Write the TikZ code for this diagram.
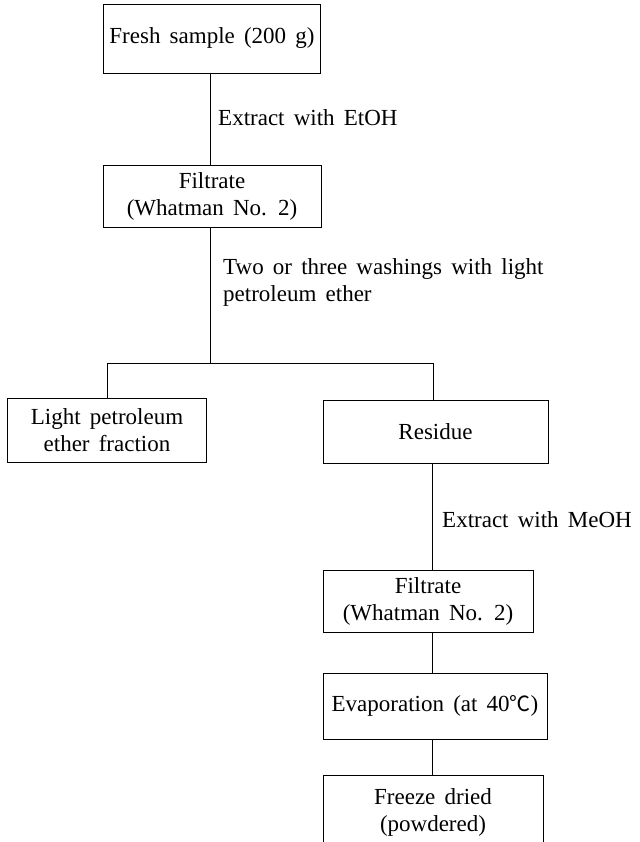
\documentclass[tikz,border=0pt]{standalone}
\usepackage{fontspec}
\setmainfont{Liberation Serif}[WordSpace=1.6]
\newfontfamily\cjk{Noto Sans CJK KR}
\begin{document}
\begin{tikzpicture}[x=1pt,y=-1pt,
  every node/.style={font=\fontsize{23}{27}\selectfont, inner sep=0pt},
  box/.style={draw, line width=0.9pt, rectangle, align=center},
  lbl/.style={align=left},
  conn/.style={line width=0.9pt}]
\useasboundingbox (0,0) rectangle (639,842);
% nodes
\node[box, minimum width=217, minimum height=69] (fresh) at (212,38.5) {Fresh sample (200 g)};
\node[box, minimum width=218, minimum height=62] (filt1) at (212,196) {Filtrate\\(Whatman No. 2)};
\node[box, minimum width=199, minimum height=64] (light) at (107,430) {Light petroleum\\ether fraction};
\node[box, minimum width=225, minimum height=63] (resid) at (435.5,431.5) {Residue};
\node[box, minimum width=210, minimum height=62] (filt2) at (428,601) {Filtrate\\(Whatman No. 2)};
\node[box, minimum width=224, minimum height=66] (evap) at (435,706) {Evaporation (at 40{\cjk\fontsize{21}{27}\selectfont ℃})};
\node[align=center] (freeze) at (433,812) {Freeze dried\\(powdered)};
% open-bottom box for Freeze dried
\coordinate (fzl) at (323,842);
\coordinate (fzr) at (543,842);
\draw[conn] (fzl) -- (323,775) -- (543,775) -- (fzr);
\coordinate (fztop) at (432,775);
% labels
\node[lbl, anchor=west] (l1) at (218,118) {Extract with EtOH};
\node[lbl, anchor=north west] (l2) at (223,258) {Two or three washings with light\\petroleum ether};
\node[lbl, anchor=west] (l3) at (442,520) {Extract with MeOH};
% connectors
\coordinate (split) at (210,363);
\coordinate (sl) at (107,363);
\coordinate (sr) at (433,363);
\draw[conn] (fresh.south -| split) -- (filt1.north -| split);
\draw[conn] (filt1.south -| split) -- (split);
\draw[conn] (light.north) -- (sl) -- (sr) -- (resid.north -| sr);
\coordinate (spine) at (432,0);
\draw[conn] (resid.south -| spine) -- (filt2.north -| spine);
\draw[conn] (filt2.south -| spine) -- (evap.north -| spine);
\draw[conn] (evap.south -| spine) -- (fztop);
\end{tikzpicture}
\end{document}
